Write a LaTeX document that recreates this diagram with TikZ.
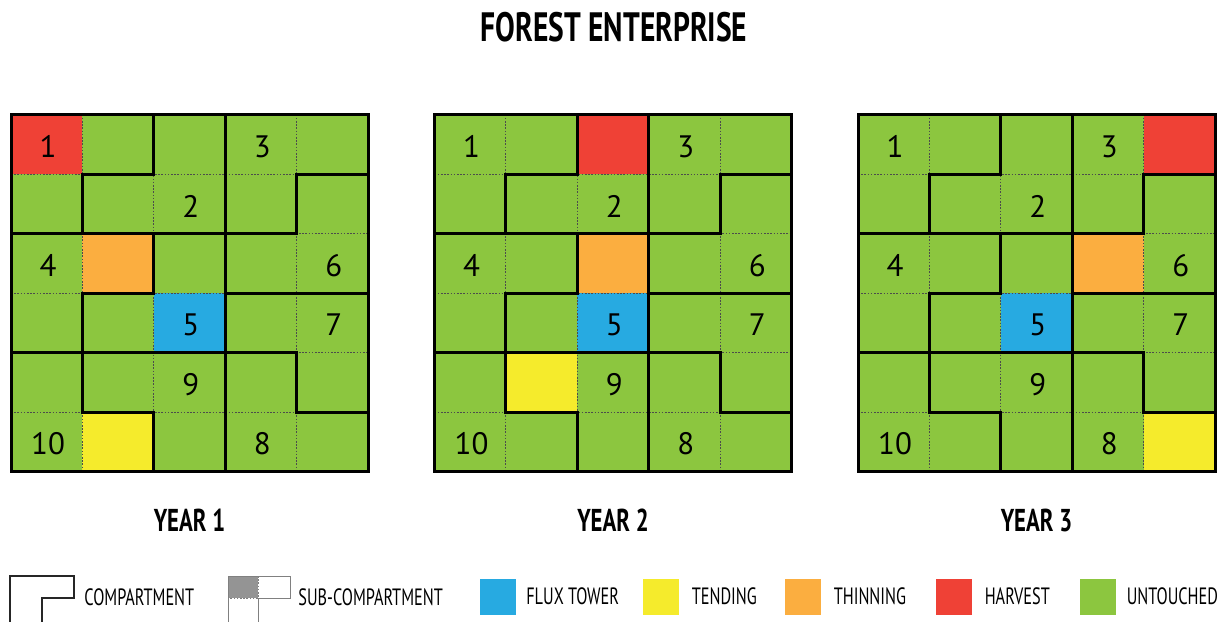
\documentclass[tikz,border=0pt]{standalone}
\usepackage{fontspec}
\setmainfont{PT Sans}
\newfontfamily\narrowfont{PT Sans}[FakeStretch=0.69]
\newfontfamily\titlefont{PT Sans}[FakeStretch=0.72]
\usepackage{tikz}
\usetikzlibrary{positioning}
\definecolor{untouched}{HTML}{8CC63F}
\definecolor{harvest}{HTML}{EF4136}
\definecolor{thinning}{HTML}{FBAE40}
\definecolor{tending}{HTML}{F5EB2C}
\definecolor{fluxtower}{HTML}{27AAE1}

\begin{document}
\begin{tikzpicture}[x=0.5pt, y=-0.5pt,
  compline/.style={line width=1.5pt, line join=miter, black},
  subline/.style={line width=0.45pt, black!70, dash pattern=on 0.8pt off 0.8pt},
  keyline/.style={line width=0.5pt, black!50},
  cellnum/.style={font=\fontsize{15.5}{16}\selectfont, inner sep=0pt},
  yearlabel/.style={font=\titlefont\bfseries\fontsize{15.8}{18}\selectfont, inner sep=0pt},
  titletext/.style={font=\titlefont\bfseries\fontsize{20.5}{24}\selectfont, inner sep=0pt},
  legendtext/.style={font=\narrowfont\fontsize{11.8}{14}\selectfont, anchor=west, inner sep=0pt},
  swatch/.style={minimum width=18pt, minimum height=18pt, inner sep=0pt, draw=none}]
\clip (0,0) rectangle (1223,622);

% ---- title ----
\node[titletext] (title) at (614,27) {FOREST ENTERPRISE};

% ---- one map per year: harvest / thinning / tending cell (col,row) ----
\foreach \yr/\ox/\hc/\hr/\nc/\nr/\gc/\gr in
    {1/11/0/0/1/2/1/5, 2/434.5/2/0/2/2/1/4, 3/858/4/0/3/2/4/5}{
  \begin{scope}[shift={(\ox,114.5)}, x=35.7pt, y=-29.75pt]
    \fill[untouched] (0,0) rectangle (5,6);
    \fill[harvest] (\hc,\hr) rectangle ++(1,1);
    \fill[thinning] (\nc,\nr) rectangle ++(1,1);
    \fill[tending] (\gc,\gr) rectangle ++(1,1);
    \fill[fluxtower] (2,3) rectangle ++(1,1);
    % sub-compartment grid
    \foreach \c in {1,...,4}
      \draw[subline] (\c,0) -- (\c,6);
    \foreach \r in {1,...,5}
      \draw[subline] (0,\r) -- (5,\r);
    % compartment boundaries
    \draw[compline] (2,0) -- (2,1) -- (1,1) -- (1,2) -- (0,2) -- (4,2) -- (4,1) -- (5,1);
    \draw[compline] (3,0) -- (3,6);
    \draw[compline] (2,2) -- (2,3) -- (1,3) -- (1,5) -- (2,5) -- (2,6);
    \draw[compline] (0,4) -- (4,4) -- (4,5) -- (5,5);
    \draw[compline] (3,3) -- (5,3);
    \draw[compline] (0,0) rectangle (5,6);
    % compartment numbers
    \foreach \n/\c/\r in {1/0/0, 2/2/1, 3/3/0, 4/0/2, 5/2/3,
                          6/4/2, 7/4/3, 8/3/5, 9/2/4, 10/0/5}
      \node[cellnum] (y\yr-c\n) at (\c+0.52,\r+0.54) {\n};
    \node[yearlabel] (year\yr) at (2.5,6.82) {YEAR \yr};
  \end{scope}
}

% ---- legend ----
\draw[line width=1.4pt, black!85] (10,640) -- (10,576) -- (74,576) -- (74,598)
  -- (42,598) -- (42,640);
\node[legendtext] (key-comp) at (84,597) {COMPARTMENT};

\fill[black!42] (228,576) rectangle (258,598);
\draw[keyline] (228,640) -- (228,576) -- (290,576) -- (290,598) -- (258,598) -- (258,640);
\draw[keyline, dash pattern=on 0.8pt off 0.8pt] (258,576) -- (258,598) -- (228,598);
\node[legendtext] (key-sub) at (298,597) {SUB-COMPARTMENT};

\node[swatch, fill=fluxtower] (key-flux) at (497.5,596.5) {};
\node[legendtext, right=5pt of key-flux] (key-flux-text) {FLUX TOWER};
\node[swatch, fill=tending] (key-tend) at (661,596.5) {};
\node[legendtext, right=6pt of key-tend] (key-tend-text) {TENDING};
\node[swatch, fill=thinning] (key-thin) at (803,596.5) {};
\node[legendtext, right=6pt of key-thin] (key-thin-text) {THINNING};
\node[swatch, fill=harvest] (key-harv) at (954,596.5) {};
\node[legendtext, right=6pt of key-harv] (key-harv-text) {HARVEST};
\node[swatch, fill=untouched] (key-untouch) at (1098,596.5) {};
\node[legendtext, right=5pt of key-untouch] (key-untouch-text) {UNTOUCHED};
\end{tikzpicture}
\end{document}
